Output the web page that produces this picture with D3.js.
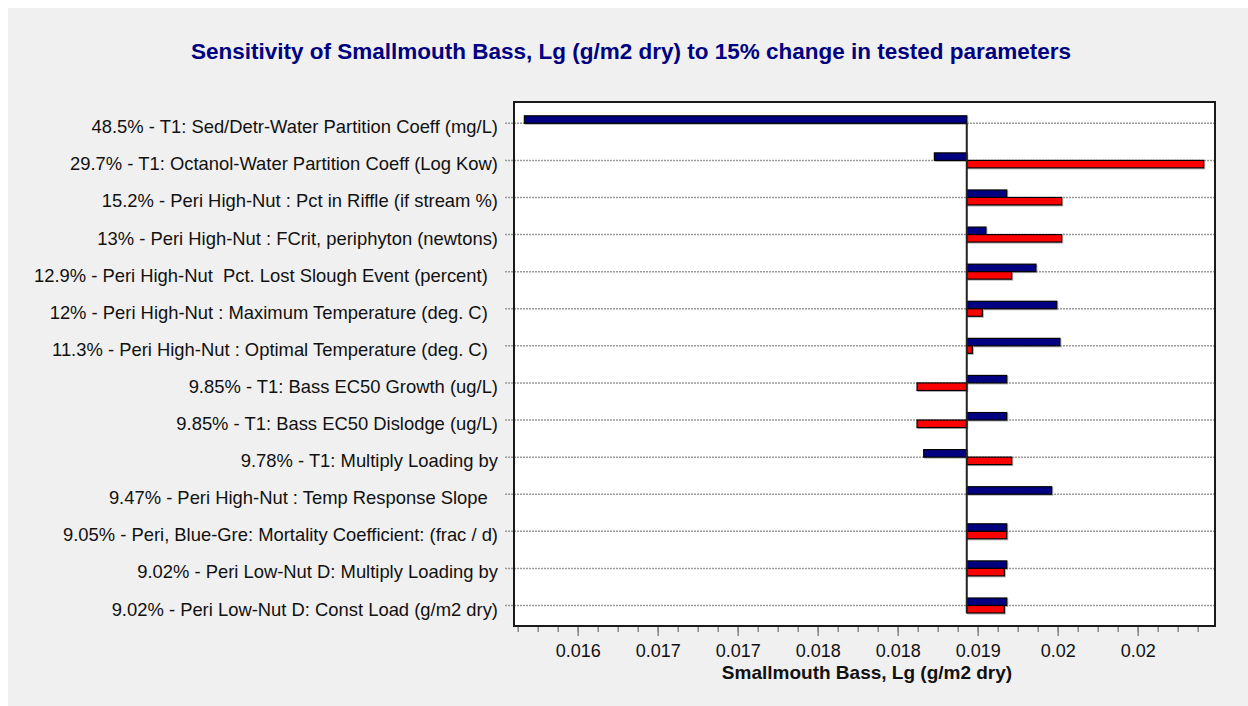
<!DOCTYPE html>
<html>
<head>
<meta charset="utf-8">
<script src="https://cdn.jsdelivr.net/npm/d3@7"></script>
<style>
  html, body { margin: 0; padding: 0; background: #fff; }
  svg { display: block; }
</style>
</head>
<body>
<div id="chart"></div>
<script>
// parameters, top to bottom (trailing spaces kept as in the original labels)
const parameters = [
  "48.5% - T1: Sed/Detr-Water Partition Coeff (mg/L)",
  "29.7% - T1: Octanol-Water Partition Coeff (Log Kow)",
  "15.2% - Peri High-Nut : Pct in Riffle (if stream %)",
  "13% - Peri High-Nut : FCrit, periphyton (newtons)",
  "12.9% - Peri High-Nut  Pct. Lost Slough Event (percent)  ",
  "12% - Peri High-Nut : Maximum Temperature (deg. C)  ",
  "11.3% - Peri High-Nut : Optimal Temperature (deg. C)  ",
  "9.85% - T1: Bass EC50 Growth (ug/L)",
  "9.85% - T1: Bass EC50 Dislodge (ug/L)",
  "9.78% - T1: Multiply Loading by",
  "9.47% - Peri High-Nut : Temp Response Slope  ",
  "9.05% - Peri, Blue-Gre: Mortality Coefficient: (frac / d)",
  "9.02% - Peri Low-Nut D: Multiply Loading by",
  "9.02% - Peri Low-Nut D: Const Load (g/m2 dry)"
];
// blue bars (upper) and red bars (lower), result value at each end
const blueValues = [0.01560, 0.018675, 0.019218, 0.019062, 0.019437, 0.019593, 0.019617,
                    0.019218, 0.019218, 0.018595, 0.019555, 0.019218, 0.019218, 0.019218];
const redValues  = [0.018918, 0.020695, 0.019630, 0.019630, 0.019255, 0.019035, 0.018960,
                    0.018545, 0.018545, 0.019255, 0.018918, 0.019218, 0.019200, 0.019200];
const baseValue = 0.018918;
const xDomain = [0.0155222, 0.0207798];
const xTickValues = [0.0160, 0.0166, 0.0172, 0.0178, 0.0184, 0.0190, 0.0196, 0.0202];
const xTickLabels = ["0.016", "0.017", "0.017", "0.018", "0.018", "0.019", "0.02", "0.02"];
const minorStep = 0.00015;

const titleText = "Sensitivity of Smallmouth Bass, Lg (g/m2 dry) to 15% change in tested parameters";
const xAxisTitle = "Smallmouth Bass, Lg (g/m2 dry)";

const svgWidth = 1248;
const svgHeight = 706;
const margin = { top: 102, bottom: 80, left: 514, right: 33 };
const chartWidth = svgWidth - margin.left - margin.right;
const chartHeight = svgHeight - margin.top - margin.bottom;
const font = "'Liberation Sans', Arial, sans-serif";
const barH = 7.5;

const svg = d3.select("#chart")
    .append("svg")
    .attr("width", svgWidth)
    .attr("height", svgHeight);

svg.append("rect")
    .attr("x", 8).attr("y", 8)
    .attr("width", svgWidth - 8).attr("height", svgHeight - 8)
    .attr("fill", "#f0f0f0");

svg.append("text")
    .text(titleText)
    .attr("x", 631)
    .attr("y", 59)
    .attr("text-anchor", "middle")
    .attr("fill", "#000080")
    .attr("font-family", font)
    .attr("font-weight", 700)
    .attr("font-size", "22.5px");

const x = d3.scaleLinear().domain(xDomain).range([0, chartWidth]);
const y = d3.scalePoint().domain(parameters).range([21.3, chartHeight - 20.5]);

const plot = svg.append("g")
    .attr("transform", `translate(${margin.left},${margin.top})`);

plot.append("rect")
    .attr("width", chartWidth)
    .attr("height", chartHeight)
    .attr("fill", "#fff");

// dotted grid lines + small ticks on the left
plot.selectAll(".grid")
    .data(parameters)
    .join("line")
    .attr("class", "grid")
    .attr("x1", -9)
    .attr("x2", chartWidth)
    .attr("y1", d => y(d))
    .attr("y2", d => y(d))
    .attr("stroke", "#9a9a9a")
    .attr("stroke-width", 1.5)
    .attr("stroke-dasharray", "2,1");

plot.selectAll(".ylab")
    .data(parameters)
    .join("text")
    .attr("class", "ylab")
    .attr("xml:space", "preserve")
    .style("white-space", "pre")
    .attr("x", -16)
    .attr("y", d => y(d) + 10)
    .attr("text-anchor", "end")
    .attr("fill", "#111")
    .attr("font-family", font)
    .attr("font-size", "18.4px")
    .text(d => d);

const rows = parameters.map((p, i) => ({ name: p, blue: blueValues[i], red: redValues[i] }));

const drawBars = (key, color, dy) => {
  const g = plot.append("g");
  g.selectAll("rect.shadow")
      .data(rows)
      .join("rect")
      .attr("class", "shadow")
      .attr("x", d => x(Math.min(baseValue, d[key])) + 1)
      .attr("y", d => y(d.name) + dy + 1)
      .attr("width", d => Math.abs(x(d[key]) - x(baseValue)))
      .attr("height", barH)
      .attr("fill", "none")
      .attr("stroke", "#b0b0b0")
      .attr("stroke-width", 1);
  g.selectAll("rect.bar")
      .data(rows)
      .join("rect")
      .attr("class", "bar")
      .attr("x", d => x(Math.min(baseValue, d[key])))
      .attr("y", d => y(d.name) + dy)
      .attr("width", d => Math.abs(x(d[key]) - x(baseValue)))
      .attr("height", barH)
      .attr("fill", color)
      .attr("stroke", "#000")
      .attr("stroke-width", 1.2);
};
drawBars("blue", "#000080", -barH);
drawBars("red", "#ff0000", 0);

plot.append("line")
    .attr("x1", x(baseValue)).attr("x2", x(baseValue))
    .attr("y1", y(parameters[0]))
    .attr("y2", y(parameters[parameters.length - 1]) + barH)
    .attr("stroke", "#222")
    .attr("stroke-width", 2);

// x axis: minor ticks, then labelled ticks
const minorTicks = d3.range(xTickValues[0] - 3 * minorStep, xDomain[1], minorStep);
const minorAxis = plot.append("g")
    .attr("transform", `translate(0,${chartHeight})`)
    .call(d3.axisBottom(x).tickValues(minorTicks).tickSize(6).tickFormat(""));
minorAxis.select(".domain").remove();
minorAxis.selectAll(".tick line").attr("stroke", "#888").attr("stroke-width", 1.5);

const xAxis = plot.append("g")
    .attr("transform", `translate(0,${chartHeight})`)
    .call(d3.axisBottom(x).tickValues(xTickValues).tickSize(10).tickPadding(8)
        .tickFormat((d, i) => xTickLabels[i]));
xAxis.select(".domain").remove();
xAxis.selectAll(".tick line").attr("stroke", "#888").attr("stroke-width", 1.5);
xAxis.selectAll(".tick text")
    .attr("fill", "#111")
    .attr("font-family", font)
    .attr("font-size", "18px");

plot.append("rect")
    .attr("width", chartWidth)
    .attr("height", chartHeight)
    .attr("fill", "none")
    .attr("stroke", "#1a1a1a")
    .attr("stroke-width", 2);

svg.append("text")
    .text(xAxisTitle)
    .attr("x", 867)
    .attr("y", 679)
    .attr("text-anchor", "middle")
    .attr("fill", "#111")
    .attr("font-family", font)
    .attr("font-weight", 700)
    .attr("font-size", "19px");
</script>
</body>
</html>
